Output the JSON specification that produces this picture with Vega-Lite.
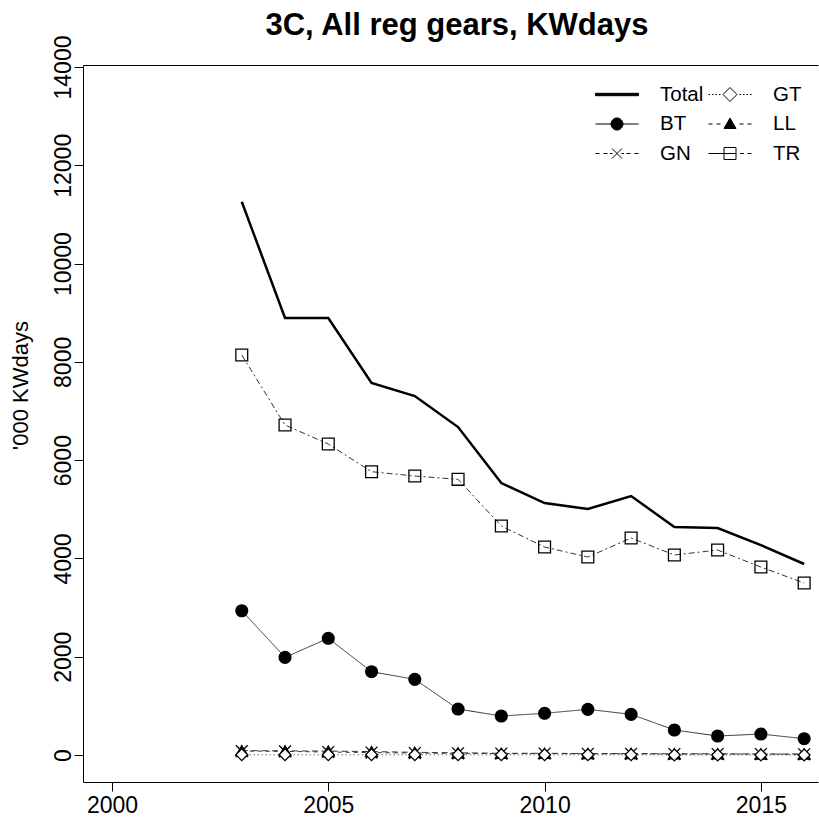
{
  "$schema": "https://vega.github.io/schema/vega-lite/v6.json",
  "width": 735,
  "height": 717,
  "autosize": "none",
  "padding": {"left": 83, "top": 65, "right": 1, "bottom": 36},
  "background": "white",
  "config": {
    "view": {"stroke": null},
    "font": "Liberation Sans",
    "axis": {"grid": false, "domainColor": "black", "tickColor": "black", "labelColor": "black", "titleColor": "black", "labelFont": "Liberation Sans", "titleFont": "Liberation Sans", "domainWidth": 1, "tickWidth": 1}
  },
  "title": {"text": "3C, All reg gears, KWdays", "fontSize": 31, "fontWeight": "bold", "font": "Liberation Sans", "color": "black", "anchor": "middle", "dx": 6.5, "baseline": "alphabetic", "offset": 0, "dy": 31},
  "data": {"values": [
    {"year": 2003, "gear": "Total", "value": 11259}, {"year": 2004, "gear": "Total", "value": 8893}, {"year": 2005, "gear": "Total", "value": 8893}, {"year": 2006, "gear": "Total", "value": 7570}, {"year": 2007, "gear": "Total", "value": 7305}, {"year": 2008, "gear": "Total", "value": 6674}, {"year": 2009, "gear": "Total", "value": 5535}, {"year": 2010, "gear": "Total", "value": 5128}, {"year": 2011, "gear": "Total", "value": 5006}, {"year": 2012, "gear": "Total", "value": 5270}, {"year": 2013, "gear": "Total", "value": 4640}, {"year": 2014, "gear": "Total", "value": 4619}, {"year": 2015, "gear": "Total", "value": 4273}, {"year": 2016, "gear": "Total", "value": 3887},
    {"year": 2003, "gear": "TR", "value": 8139}, {"year": 2004, "gear": "TR", "value": 6715}, {"year": 2005, "gear": "TR", "value": 6328}, {"year": 2006, "gear": "TR", "value": 5765}, {"year": 2007, "gear": "TR", "value": 5677}, {"year": 2008, "gear": "TR", "value": 5610}, {"year": 2009, "gear": "TR", "value": 4660}, {"year": 2010, "gear": "TR", "value": 4232}, {"year": 2011, "gear": "TR", "value": 4029}, {"year": 2012, "gear": "TR", "value": 4416}, {"year": 2013, "gear": "TR", "value": 4070}, {"year": 2014, "gear": "TR", "value": 4171}, {"year": 2015, "gear": "TR", "value": 3825}, {"year": 2016, "gear": "TR", "value": 3500},
    {"year": 2003, "gear": "BT", "value": 2936}, {"year": 2004, "gear": "BT", "value": 1988}, {"year": 2005, "gear": "BT", "value": 2375}, {"year": 2006, "gear": "BT", "value": 1695}, {"year": 2007, "gear": "BT", "value": 1540}, {"year": 2008, "gear": "BT", "value": 936}, {"year": 2009, "gear": "BT", "value": 794}, {"year": 2010, "gear": "BT", "value": 849}, {"year": 2011, "gear": "BT", "value": 930}, {"year": 2012, "gear": "BT", "value": 828}, {"year": 2013, "gear": "BT", "value": 509}, {"year": 2014, "gear": "BT", "value": 387}, {"year": 2015, "gear": "BT", "value": 427}, {"year": 2016, "gear": "BT", "value": 332},
    {"year": 2003, "gear": "LL", "value": 90}, {"year": 2004, "gear": "LL", "value": 85}, {"year": 2005, "gear": "LL", "value": 80}, {"year": 2006, "gear": "LL", "value": 70}, {"year": 2007, "gear": "LL", "value": 55}, {"year": 2008, "gear": "LL", "value": 45}, {"year": 2009, "gear": "LL", "value": 35}, {"year": 2010, "gear": "LL", "value": 35}, {"year": 2011, "gear": "LL", "value": 30}, {"year": 2012, "gear": "LL", "value": 30}, {"year": 2013, "gear": "LL", "value": 25}, {"year": 2014, "gear": "LL", "value": 25}, {"year": 2015, "gear": "LL", "value": 20}, {"year": 2016, "gear": "LL", "value": 20},
    {"year": 2003, "gear": "GN", "value": 80}, {"year": 2004, "gear": "GN", "value": 75}, {"year": 2005, "gear": "GN", "value": 60}, {"year": 2006, "gear": "GN", "value": 50}, {"year": 2007, "gear": "GN", "value": 40}, {"year": 2008, "gear": "GN", "value": 35}, {"year": 2009, "gear": "GN", "value": 30}, {"year": 2010, "gear": "GN", "value": 30}, {"year": 2011, "gear": "GN", "value": 25}, {"year": 2012, "gear": "GN", "value": 25}, {"year": 2013, "gear": "GN", "value": 20}, {"year": 2014, "gear": "GN", "value": 20}, {"year": 2015, "gear": "GN", "value": 20}, {"year": 2016, "gear": "GN", "value": 15},
    {"year": 2003, "gear": "GT", "value": 5}, {"year": 2004, "gear": "GT", "value": 5}, {"year": 2005, "gear": "GT", "value": 5}, {"year": 2006, "gear": "GT", "value": 5}, {"year": 2007, "gear": "GT", "value": 5}, {"year": 2008, "gear": "GT", "value": 5}, {"year": 2009, "gear": "GT", "value": 5}, {"year": 2010, "gear": "GT", "value": 5}, {"year": 2011, "gear": "GT", "value": 5}, {"year": 2012, "gear": "GT", "value": 5}, {"year": 2013, "gear": "GT", "value": 0}, {"year": 2014, "gear": "GT", "value": 0}, {"year": 2015, "gear": "GT", "value": 0}, {"year": 2016, "gear": "GT", "value": 0}
  ]},
  "encoding": {
    "x": {"field": "year", "type": "quantitative", "scale": {"domain": [1999.33, 2016.32], "nice": false, "zero": false}},
    "y": {"field": "value", "type": "quantitative", "scale": {"domain": [-549, 14041], "nice": false, "zero": false}}
  },
  "layer": [
    {
      "transform": [{"filter": "datum.gear !== 'Total'"}],
      "mark": {"type": "line", "color": "#333333", "strokeWidth": 1},
      "encoding": {
        "x": {"field": "year", "type": "quantitative", "axis": {"orient": "bottom", "values": [2000, 2005, 2010, 2015], "format": "d", "labelFontSize": 23, "tickSize": 9, "labelPadding": 3, "title": null, "domain": true}},
        "y": {"field": "value", "type": "quantitative", "axis": {"values": [0, 2000, 4000, 6000, 8000, 10000, 12000, 14000], "format": "d", "labelFontSize": 23, "tickSize": 9, "labelAngle": -90, "labelAlign": "center", "labelBaseline": "alphabetic", "labelPadding": 4, "title": "'000 KWdays", "titleFontSize": 22, "titleFontWeight": "normal", "titleAngle": -90, "titleX": -63, "titleY": 320, "titleAlign": "center", "titleBaseline": "middle"}},
        "strokeDash": {"field": "gear", "type": "nominal", "legend": null, "scale": {"domain": ["BT", "GN", "GT", "LL", "TR"], "range": [[1, 0], [4, 4], [1, 3], [6, 4], [6, 3, 2, 3]]}}
      }
    },
    {
      "transform": [{"filter": "datum.gear === 'Total'"}],
      "mark": {"type": "line", "color": "black", "strokeWidth": 2.5},
      "encoding": {
        "x": {"field": "year", "type": "quantitative", "axis": {"orient": "top", "labels": false, "ticks": false, "title": null, "domain": true}},
        "y": {"field": "value", "type": "quantitative", "axis": null}
      }
    },
    {
      "transform": [{"filter": "datum.gear !== 'Total'"}],
      "mark": {"type": "point", "stroke": "black", "strokeWidth": 1.3, "opacity": 1},
      "encoding": {
        "x": {"field": "year", "type": "quantitative", "axis": null},
        "y": {"field": "value", "type": "quantitative", "axis": null},
        "shape": {"field": "gear", "type": "nominal", "legend": null, "scale": {"domain": ["BT", "GN", "GT", "LL", "TR"], "range": ["circle", "M-1,-1L1,1M-1,1L1,-1", "diamond", "triangle-up", "square"]}},
        "fill": {"field": "gear", "type": "nominal", "legend": null, "scale": {"domain": ["BT", "GN", "GT", "LL", "TR"], "range": ["black", "transparent", "white", "black", "transparent"]}},
        "size": {"value": 140}
      }
    },
    {
      "mark": {"type": "point", "stroke": "black", "strokeWidth": 1, "opacity": 0},
      "encoding": {
        "x": {"field": "year", "type": "quantitative", "axis": null},
        "y": {"field": "value", "type": "quantitative", "axis": null},
        "shape": {"field": "gear", "type": "nominal", "scale": {"domain": ["Total", "GT", "BT", "LL", "GN", "TR"], "range": [
          "M-2.15,-0.12L2.15,-0.12L2.15,0.12L-2.15,0.12Z",
          "M-2.15,0L-2,0M-1.8,0L-1.65,0M-1.45,0L-1.3,0M-1.1,0L-0.95,0M0.95,0L1.1,0M1.3,0L1.45,0M1.65,0L1.8,0M2,0L2.15,0M0,-0.7L0.7,0L0,0.7L-0.7,0Z",
          "M-2.15,0L2.15,0M0.6,0A0.6,0.6,0,1,1,-0.6,0A0.6,0.6,0,1,1,0.6,0Z",
          "M-2.15,0L-1.75,0M-1.35,0L-0.95,0M0.95,0L1.35,0M1.75,0L2.15,0M0,-0.6L0.6,0.45L-0.6,0.45Z",
          "M-2.15,0L-1.75,0M-1.35,0L-0.95,0M-0.45,0L-0.7,0M0.45,0L0.7,0M0.95,0L1.35,0M1.75,0L2.15,0M-0.5,-0.5L0.5,0.5M-0.5,0.5L0.5,-0.5",
          "M-2.15,0L0.6,0M1.0,0L1.4,0M1.75,0L2.15,0M-0.6,-0.6L0.6,-0.6L0.6,0.6L-0.6,0.6Z"
        ]}, "legend": {"title": null, "orient": "none", "legendX": 523.5, "legendY": 19, "columns": 2, "direction": "horizontal", "symbolSize": 400, "symbolStrokeColor": "black", "symbolStrokeWidth": 1, "symbolOpacity": 1, "labelFontSize": 20.5, "labelFont": "Liberation Sans", "labelColor": "black", "labelOffset": 32.5, "columnPadding": 3, "rowPadding": 8.5, "padding": 0, "symbolOffset": 0, "labelLimit": 200, "encode": {"symbols": {"update": {"stroke": {"value": "black"}, "strokeWidth": {"value": 1}, "opacity": {"value": 1}}}}}},
        "fill": {"field": "gear", "type": "nominal", "scale": {"domain": ["Total", "GT", "BT", "LL", "GN", "TR"], "range": ["black", "white", "black", "black", "white", "white"]}, "legend": {"title": null, "orient": "none", "legendX": 523.5, "legendY": 19, "columns": 2, "direction": "horizontal", "symbolSize": 400, "symbolStrokeColor": "black", "symbolStrokeWidth": 1, "symbolOpacity": 1, "labelFontSize": 20.5, "labelFont": "Liberation Sans", "labelColor": "black", "labelOffset": 32.5, "columnPadding": 3, "rowPadding": 8.5, "padding": 0, "symbolOffset": 0, "labelLimit": 200, "encode": {"symbols": {"update": {"stroke": {"value": "black"}, "strokeWidth": {"value": 1}, "opacity": {"value": 1}}}}}}
      }
    }
  ],
  "resolve": {"scale": {"shape": "independent", "fill": "independent", "strokeDash": "independent"}, "axis": {"x": "independent", "y": "independent"}, "legend": {"shape": "independent", "fill": "independent"}}
}
